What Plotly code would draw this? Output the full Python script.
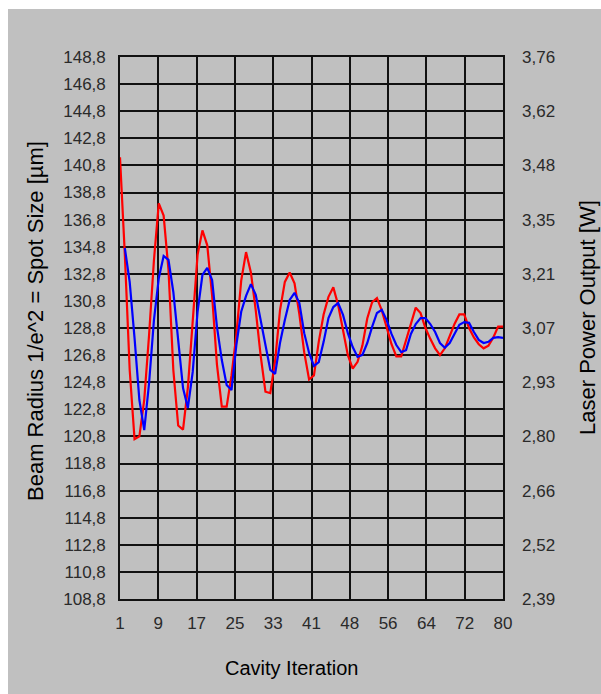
import plotly.graph_objects as go

iterations = list(range(1, 81))

beam_radius_um = [
    141.4, 134.2, 125.7, 120.6, 120.8, 123.5, 128.3, 133.8, 138.0, 137.1,
    133.1, 125.7, 121.6, 121.3, 124.4, 129.0, 134.2, 136.0, 134.9, 131.2,
    126.1, 123.0, 123.0, 125.3, 128.3, 132.3, 134.4, 132.9, 130.1, 126.8,
    124.1, 124.0, 126.4, 130.1, 132.2, 132.9, 132.1, 129.8, 127.0, 125.0,
    125.3, 127.8, 129.8, 131.1, 131.8, 130.5, 128.5, 126.8, 125.8, 126.3,
    127.5, 129.5, 130.7, 131.0, 130.1, 128.8, 127.6, 126.7, 126.7, 127.9,
    129.2, 130.3, 129.9, 128.8, 128.0, 127.3, 126.8, 127.3, 128.2, 129.1,
    129.8, 129.8, 128.8, 128.1, 127.6, 127.3, 127.5, 128.1, 128.9, 128.9,
]

laser_power_w = [
    None, 3.277, 3.191, 3.050, 2.893, 2.817, 2.936, 3.095, 3.201, 3.257,
    3.247, 3.166, 3.050, 2.923, 2.873, 2.964, 3.116, 3.209, 3.227, 3.196,
    3.078, 2.994, 2.931, 2.918, 3.032, 3.116, 3.156, 3.186, 3.159, 3.095,
    3.027, 2.969, 2.959, 3.037, 3.095, 3.146, 3.164, 3.138, 3.062, 3.012,
    2.979, 2.989, 3.040, 3.100, 3.128, 3.138, 3.108, 3.062, 3.027, 3.002,
    3.007, 3.037, 3.078, 3.113, 3.121, 3.095, 3.060, 3.032, 3.014, 3.019,
    3.060, 3.085, 3.100, 3.100, 3.085, 3.065, 3.037, 3.025, 3.037, 3.062,
    3.083, 3.090, 3.088, 3.065, 3.045, 3.037, 3.040, 3.050, 3.052, 3.050,
]

x_tickvals = [1, 8.9, 16.8, 24.7, 32.6, 40.5, 48.4, 56.3, 64.2, 72.1, 80]
x_ticktext = ["1", "9", "17", "25", "33", "41", "48", "56", "64", "72", "80"]

left_tickvals = [108.8 + 2 * k for k in range(21)]
left_ticktext = ["108,8", "110,8", "112,8", "114,8", "116,8", "118,8", "120,8",
                 "122,8", "124,8", "126,8", "128,8", "130,8", "132,8", "134,8",
                 "136,8", "138,8", "140,8", "142,8", "144,8", "146,8", "148,8"]

right_tickvals = [2.39 + 0.137 * k for k in range(11)]
right_ticktext = ["2,39", "2,52", "2,66", "2,80", "2,93", "3,07", "3,21",
                  "3,35", "3,48", "3,62", "3,76"]

W, H = 601, 694
L, R, T, B = 120, 98, 57, 95
pw, ph = W - L - R, H - T - B

def px(x):
    return (x - L) / pw

def py(y):
    return (H - B - y) / ph

GREY = "#c0c0c0"
FONT = "Liberation Sans, Arial, sans-serif"

fig = go.Figure()
fig.add_trace(go.Scatter(x=iterations, y=beam_radius_um, mode="lines",
                         line=dict(color="#ff0000", width=2.2), yaxis="y",
                         name="Beam Radius"))
fig.add_trace(go.Scatter(x=iterations, y=laser_power_w, mode="lines",
                         line=dict(color="#0000ff", width=2.2), yaxis="y2",
                         name="Laser Power"))

fig.update_layout(
    width=W, height=H,
    margin=dict(l=L, r=R, t=T, b=B, pad=0),
    paper_bgcolor="white",
    plot_bgcolor=GREY,
    showlegend=False,
    font=dict(family=FONT, size=17, color="#2a2a2a"),
    xaxis=dict(range=[1, 80], tickvals=x_tickvals, ticktext=x_ticktext,
               showgrid=True, gridcolor="#111", gridwidth=1.6,
               showline=True, linecolor="#111", linewidth=1.6, mirror=True,
               zeroline=False, ticks="", ticklabelstandoff=8),
    yaxis=dict(range=[108.8, 148.8], tickvals=left_tickvals, ticktext=left_ticktext,
               showgrid=True, gridcolor="#111", gridwidth=1.6,
               showline=True, linecolor="#111", linewidth=1.6, mirror=True,
               zeroline=False, ticks="", ticklabelstandoff=9),
    yaxis2=dict(range=[2.39, 3.76], tickvals=right_tickvals, ticktext=right_ticktext,
                overlaying="y", side="right", showgrid=False, zeroline=False,
                showline=False, ticks="", ticklabelstandoff=18),
    shapes=[dict(type="rect", xref="paper", yref="paper",
                 x0=px(8), x1=px(W + 5), y0=py(H + 5), y1=py(9),
                 fillcolor=GREY, line=dict(width=0), layer="below")],
    annotations=[
        dict(text="Beam Radius 1/e^2 = Spot Size [µm]", xref="paper", yref="paper",
             x=px(35), y=py(321), xanchor="center", yanchor="middle",
             showarrow=False, textangle=-90,
             font=dict(size=22, color="#000", family=FONT)),
        dict(text="Laser Power Output [W]", xref="paper", yref="paper",
             x=px(587), y=py(318), xanchor="center", yanchor="middle",
             showarrow=False, textangle=-90,
             font=dict(size=22, color="#000", family=FONT)),
        dict(text="Cavity Iteration", xref="paper", yref="paper",
             x=px(291), y=py(668), xanchor="center", yanchor="middle",
             showarrow=False,
             font=dict(size=20, color="#000", family=FONT)),
    ],
)

fig.write_html("out.html")
